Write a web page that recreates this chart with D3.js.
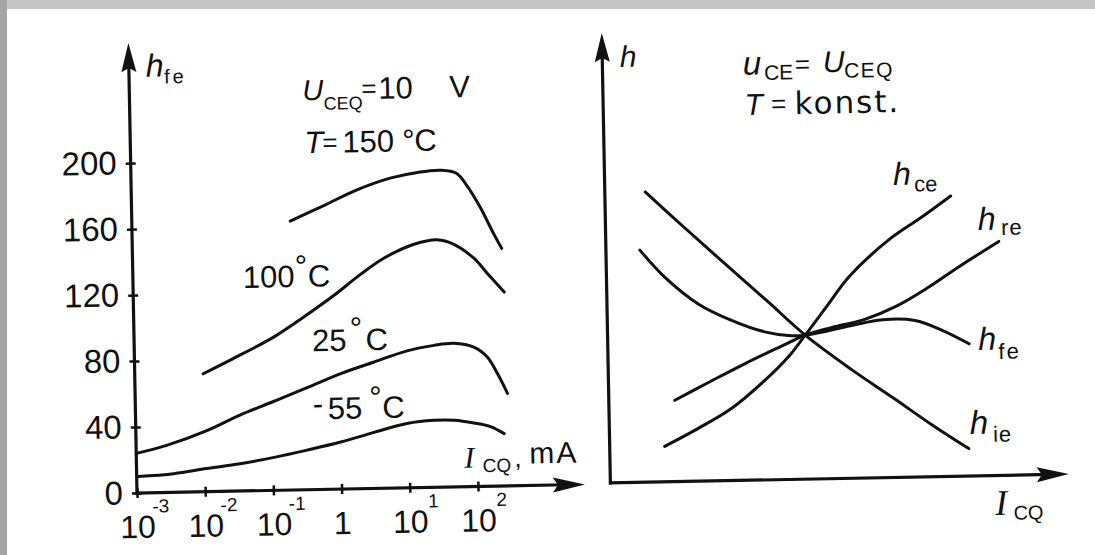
<!DOCTYPE html>
<html lang="de">
<head>
<meta charset="utf-8">
<script src="https://d3js.org/d3.v7.min.js"></script>
<title>h-Parameter ueber I_CQ</title>
<style>
  body { margin: 0; background: #fff; }
  svg text { font-family: "Liberation Sans", Arial, sans-serif; fill: #111; }
  .curve { fill: none; stroke: #111; stroke-width: 3; stroke-linecap: round; stroke-linejoin: round; }
  .axisline { fill: none; stroke: #111; stroke-width: 3.2; }
  .arrow { fill: #111; stroke: none; }
</style>
</head>
<body>
<svg id="chart" width="1095" height="555"></svg>
<script>
// ---- left panel: h_fe over I_CQ (mA, log axis) for four temperatures ----
var hfeTicks = [0, 40, 80, 120, 160, 200];
var currentTicks = [0.001, 0.01, 0.1, 1, 10, 100];
var currentTickPow = ["-3", "-2", "-1", null, "1", "2"];

var i150 = [0.21, 0.66, 2.0, 6.5, 16, 35, 59, 85, 130, 200, 260];
var h150 = [163, 172, 181, 188, 191, 192, 190, 182, 169, 153, 144];

var i100 = [0.0101, 0.028, 0.113, 0.32, 0.88, 2.2, 4.9, 13.5, 29.5, 52, 100, 158, 275];
var h100 = [71.5, 80.3, 93, 105, 117.5, 130, 139.5, 147.5, 150, 147, 138.5, 129, 117.5];

var i25 = [0.001, 0.0028, 0.011, 0.034, 0.108, 0.34, 1.05, 3.2, 10, 25, 49, 95, 148, 209, 288];
var h25 = [24, 28.5, 37, 46, 54, 62, 70, 76.5, 83, 86, 87, 84.5, 78.5, 68, 56];

var iM55 = [0.00105, 0.0035, 0.0107, 0.033, 0.105, 0.32, 1.0, 3.1, 9.5, 23.7, 47, 91, 162, 251];
var hM55 = [10, 11.3, 14, 16.5, 20, 24, 28.5, 34, 39, 40.6, 40.4, 38.5, 36, 31.7];

// ---- right panel: h parameters over I_CQ, no scale (relative units 0..10) ----
var ceX = [1.20, 1.93, 2.67, 3.41, 3.93, 4.31, 4.80, 5.29, 6.17, 6.91, 7.54];
var ceY = [0.79, 1.17, 1.60, 2.21, 2.72, 3.20, 3.84, 4.48, 5.28, 5.78, 6.23];

var reX = [1.44, 2.2, 3.0, 3.8, 4.31, 4.9, 5.6, 6.3, 7.0, 7.7, 8.57];
var reY = [1.81, 2.2, 2.6, 2.97, 3.20, 3.36, 3.52, 3.8, 4.2, 4.66, 5.2];

var feX = [0.74, 1.27, 1.99, 2.71, 3.43, 3.94, 4.31, 5.30, 6.00, 6.71, 7.30, 7.88];
var feY = [5.16, 4.55, 3.94, 3.56, 3.29, 3.20, 3.20, 3.39, 3.51, 3.48, 3.25, 2.94];

var ieX = [0.88, 1.7, 2.6, 3.5, 4.31, 5.3, 6.2, 7.0, 7.83];
var ieY = [6.45, 5.66, 4.81, 3.97, 3.20, 2.42, 1.77, 1.18, 0.61];

var svg = d3.select("#chart");

// scanned page edge
svg.append("rect").attr("width", 1095).attr("height", 555).attr("fill", "#fff");
svg.append("rect").attr("width", 1095).attr("height", 9).attr("fill", "#c6c6c6");
svg.append("rect").attr("width", 7).attr("height", 555).attr("fill", "#a4a4a4");

// the scan is tilted a little
var page = svg.append("g").attr("transform", "rotate(-1.1,137,493)");

var x = d3.scaleLog().domain([1e-3, 1e2]).range([137, 478]);
var y = d3.scaleLinear().domain([0, 200]).range([493, 163]);
var xr = d3.scaleLinear().domain([0, 10]).range([610.5, 1069]);
var yr = d3.scaleLinear().domain([0, 10]).range([492, 42]);

function arrowUp(cx, tipY) {
  page.append("path").attr("class", "arrow")
    .attr("d", "M" + cx + "," + tipY + " L" + (cx + 7.5) + "," + (tipY + 29) +
      " L" + cx + "," + (tipY + 25) + " L" + (cx - 7.5) + "," + (tipY + 29) + "Z");
}
function arrowRight(tipX, cy) {
  page.append("path").attr("class", "arrow")
    .attr("d", "M" + tipX + "," + cy + " L" + (tipX - 32) + "," + (cy - 7.5) +
      " L" + (tipX - 27) + "," + cy + " L" + (tipX - 32) + "," + (cy + 7.5) + "Z");
}

// left axes
var yAxis = page.append("g").attr("transform", "translate(" + x(1e-3) + ",0)")
  .call(d3.axisLeft(y).tickValues(hfeTicks).tickSize(6).tickPadding(8))
  .attr("font-family", null).attr("font-size", 33);
yAxis.select(".domain").remove();
yAxis.selectAll(".tick line").attr("x1", -5).attr("x2", 5).attr("stroke", "#111").attr("stroke-width", 2.5);
yAxis.selectAll(".tick text").attr("fill", "#111");

var xAxis = page.append("g").attr("transform", "translate(0," + y(0) + ")")
  .call(d3.axisBottom(x).tickValues(currentTicks).tickSize(5).tickFormat(function () { return ""; }));
xAxis.select(".domain").remove();
xAxis.selectAll(".tick line").attr("y1", -5).attr("y2", 5).attr("stroke", "#111").attr("stroke-width", 2.5);
xAxis.selectAll(".tick").each(function (d, i) {
  var g = d3.select(this);
  var pow = currentTickPow[i];
  g.append("text").attr("y", 45).attr("text-anchor", "middle").attr("font-size", 32)
    .attr("fill", "#111").text(pow === null ? "1" : "10");
  if (pow !== null) {
    g.append("text").attr("x", 23).attr("y", 20).attr("font-size", 19)
      .attr("fill", "#111").text(pow);
  }
});

page.append("line").attr("class", "axisline")
  .attr("x1", x(1e-3)).attr("y1", y(0) + 1.5).attr("x2", x(1e-3)).attr("y2", 60);
arrowUp(x(1e-3), 43);
page.append("line").attr("class", "axisline")
  .attr("x1", x(1e-3) - 1.5).attr("y1", y(0)).attr("x2", 566).attr("y2", y(0));
arrowRight(585, y(0));

// left curves
var lineL = d3.line().x(function (d) { return x(d[0]); }).y(function (d) { return y(d[1]); })
  .curve(d3.curveCatmullRom.alpha(0.5));
[[i150, h150], [i100, h100], [i25, h25], [iM55, hM55]].forEach(function (s) {
  page.append("path").attr("class", "curve").attr("d", lineL(d3.zip(s[0], s[1])));
});

// right axes
page.append("line").attr("class", "axisline")
  .attr("x1", xr(0)).attr("y1", yr(0) + 1.5).attr("x2", xr(0)).attr("y2", yr(10) + 18);
arrowUp(xr(0), yr(10));
page.append("line").attr("class", "axisline")
  .attr("x1", xr(0) - 1.5).attr("y1", yr(0)).attr("x2", xr(10) - 18).attr("y2", yr(0));
arrowRight(xr(10), yr(0));

// right curves
var lineR = d3.line().x(function (d) { return xr(d[0]); }).y(function (d) { return yr(d[1]); })
  .curve(d3.curveCatmullRom.alpha(0.5));
[[ceX, ceY], [reX, reY], [feX, feY], [ieX, ieY]].forEach(function (s) {
  page.append("path").attr("class", "curve").attr("d", lineR(d3.zip(s[0], s[1])));
});

// texts
var serif = "'Liberation Serif', 'Times New Roman', serif";
var wide = "'DejaVu Sans', 'Liberation Sans', sans-serif";
function label(parts) {
  var t = page.append("text");
  parts.forEach(function (p) {
    var s = t.append("tspan").attr("x", p.x).attr("y", p.y).attr("font-size", p.s).text(p.t);
    if (p.i) s.attr("font-style", "italic");
    if (p.f) s.attr("font-family", p.f);
    if (p.ls) s.attr("letter-spacing", p.ls);
  });
}

label([{x: 154, y: 77, t: "h", s: 32, i: 1}, {x: 172, y: 84, t: "fe", s: 20, ls: 3}]);
label([{x: 310, y: 103.5, t: "U", s: 29, i: 1}, {x: 331, y: 113.5, t: "CEQ", s: 18},
  {x: 369, y: 102, t: "=", s: 26}, {x: 386, y: 103.5, t: "10", s: 31}, {x: 457, y: 103.5, t: "V", s: 31}]);
label([{x: 311, y: 156.5, t: "T", s: 31, i: 1}, {x: 329, y: 155, t: "=", s: 26},
  {x: 349, y: 156.5, t: "150", s: 31}, {x: 409, y: 156.5, t: "°", s: 31}, {x: 421, y: 156.5, t: "C", s: 31}]);
label([{x: 247, y: 290, t: "100", s: 31}, {x: 299, y: 280, t: "°", s: 31}, {x: 312, y: 290, t: "C", s: 31}]);
label([{x: 315, y: 354.7, t: "25", s: 31}, {x: 353, y: 343, t: "°", s: 31}, {x: 368.5, y: 354.7, t: "C", s: 31}]);
label([{x: 314.5, y: 418, t: "-", s: 31}, {x: 329.5, y: 422.7, t: "55", s: 31},
  {x: 371, y: 412.5, t: "°", s: 31}, {x: 384, y: 422.7, t: "C", s: 31}]);
label([{x: 465, y: 474, t: "I", s: 30, i: 1, f: serif}, {x: 483, y: 479, t: "CQ", s: 19},
  {x: 515, y: 474, t: ",", s: 26}, {x: 530, y: 471, t: "mA", s: 30, ls: 2}]);

label([{x: 628, y: 76.3, t: "h", s: 30, i: 1}]);
label([{x: 751, y: 86.5, t: "u", s: 33, i: 1}, {x: 772, y: 92, t: "CE", s: 21},
  {x: 803, y: 86, t: "=", s: 26}, {x: 831, y: 85.5, t: "U", s: 30, i: 1},
  {x: 852, y: 91.5, t: "CEQ", s: 21, ls: 1.5}]);
label([{x: 752, y: 126.8, t: "T", s: 30, i: 1}, {x: 778.5, y: 125, t: "=", s: 26},
  {x: 802, y: 126.8, t: "konst.", s: 31, ls: 2, f: wide}]);
label([{x: 899, y: 199.6, t: "h", s: 32, i: 1}, {x: 920, y: 206.6, t: "ce", s: 22}]);
label([{x: 983, y: 246.2, t: "h", s: 32, i: 1}, {x: 1006, y: 251.6, t: "re", s: 22, ls: 1}]);
label([{x: 981, y: 366.2, t: "h", s: 32, i: 1}, {x: 1001, y: 375.5, t: "fe", s: 22, ls: 2}]);
label([{x: 971, y: 450, t: "h", s: 33, i: 1}, {x: 994, y: 458.2, t: "ie", s: 22, ls: 1}]);
label([{x: 995, y: 531.5, t: "I", s: 36, i: 1, f: serif}, {x: 1013, y: 536.5, t: "CQ", s: 20}]);
</script>
</body>
</html>
